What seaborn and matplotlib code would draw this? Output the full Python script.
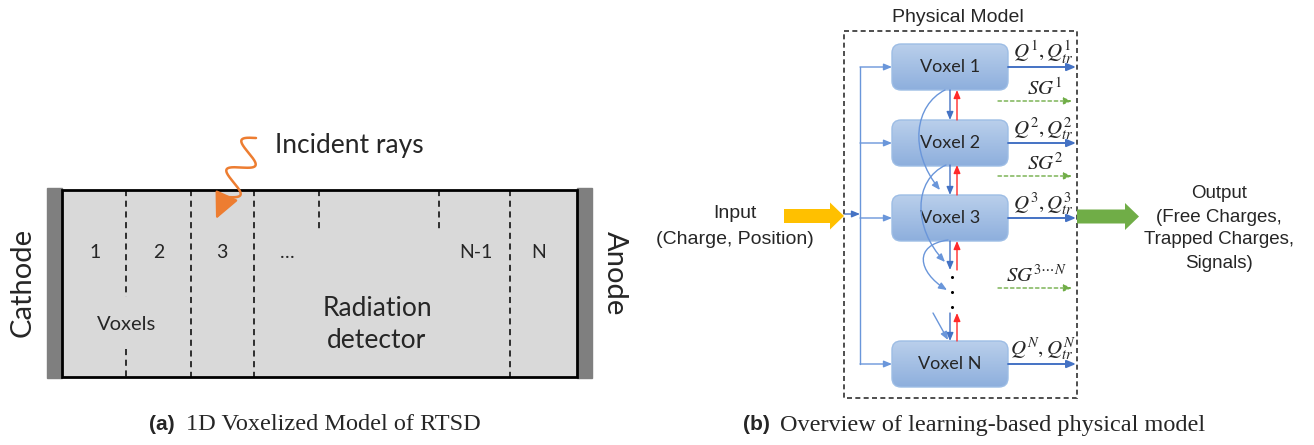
import numpy as np
import matplotlib
matplotlib.use("Agg")
import matplotlib.pyplot as plt
import seaborn as sns
from matplotlib.patches import Rectangle, FancyBboxPatch, FancyArrow, FancyArrowPatch
from matplotlib.path import Path

# ---------------------------------------------------------------- content
VOXEL_NUMS = ["1", "2", "3", "…", "N-1", "N"]
VOXEL_NUM_X = [95, 159, 222, 287, 476, 539]
DIVIDER_X = [126, 191, 254, 319, 439, 510]
DIVIDER_SPANS = [[(190, 297), (349, 377)], [(190, 377)], [(190, 377)],
                 [(190, 232)], [(190, 232)], [(190, 377)]]
VOXEL_NAMES = ["Voxel 1", "Voxel 2", "Voxel 3", "Voxel N"]
VOXEL_TOP = [44, 120, 195, 341]
Q_LABELS = [r"$Q^1,Q_{tr}^1$", r"$Q^2,Q_{tr}^2$", r"$Q^3,Q_{tr}^3$", r"$Q^N,Q_{tr}^N$"]
SG_LABELS = [r"$SG^1$", r"$SG^2$", r"$SG^{3\cdots N}$"]
SG_Y = [101, 176, 288]
INPUT_LINES = ["Input", "(Charge, Position)"]
OUTPUT_LINES = ["Output", "(Free Charges,", "Trapped Charges,", "Signals)"]
CAPTIONS = [("(a)", "1D Voxelized Model of RTSD"),
            ("(b)", "Overview of learning-based physical model")]

BLUE = "#4472C4"
LBLUE = "#6A96DA"
RED = "#FF2A2A"
GREEN = "#70AD47"
ORANGE = "#ED7D31"
YELLOW = "#FFC000"

sns.set_theme(style="white")
plt.rcParams["font.family"] = ["Lato", "DejaVu Sans"]
plt.rcParams["mathtext.fontset"] = "stix"

fig = plt.figure(figsize=(13.14, 4.45), dpi=100)
ax = fig.add_axes([0, 0, 1, 1])
ax.set_xlim(0, 1314)
ax.set_ylim(445, 0)
ax.axis("off")


def arrow(x0, y0, x1, y1, color, lw=1.0, ms=9, ls="-", z=4):
    ax.annotate("", xy=(x1, y1), xytext=(x0, y0),
                arrowprops=dict(arrowstyle="-|>,head_length=0.6,head_width=0.25",
                                color=color, lw=lw, shrinkA=0, shrinkB=0,
                                mutation_scale=ms, linestyle=ls), zorder=z)


# ----------------------------------------------------------- (a) detector
ax.add_patch(Rectangle((47, 188), 15, 190, color="#7F7F7F", zorder=1))
ax.add_patch(Rectangle((577, 188), 15, 190, color="#7F7F7F", zorder=1))
ax.add_patch(Rectangle((62, 189.5), 515, 187, facecolor="#D9D9D9",
                       edgecolor="black", lw=2, zorder=2))
for x, spans in zip(DIVIDER_X, DIVIDER_SPANS):
    for a, b in spans:
        ax.plot([x, x], [a, b], color="black", lw=1.1, ls=(0, (4, 3)), zorder=3)
for lab, x in zip(VOXEL_NUMS, VOXEL_NUM_X):
    ax.text(x, 252, lab, ha="center", va="center", fontsize=14, zorder=4)
ax.text(127, 324, "Voxels", ha="center", va="center", fontsize=14.5, zorder=4)
ax.text(377, 308, "Radiation", ha="center", va="center", fontsize=19, zorder=4)
ax.text(377, 341, "detector", ha="center", va="center", fontsize=19, zorder=4)
ax.text(23, 282, "Cathode", ha="center", va="center", rotation=90, fontsize=21)
ax.text(615, 273, "Anode", ha="center", va="center", rotation=-90, fontsize=21)
ax.text(275, 145, "Incident rays", ha="left", va="center", fontsize=19)

# incident ray squiggle
p0, p1 = np.array([256.0, 138.0]), np.array([226.0, 197.0])
d = (p1 - p0) / np.linalg.norm(p1 - p0)
n = np.array([-d[1], d[0]])
t = np.linspace(0, 1, 300)
wave = p0 + np.outer(t, p1 - p0) + np.outer(12 * np.sin(2 * np.pi * 2.0 * t), n)
ax.plot(wave[:, 0], wave[:, 1], color=ORANGE, lw=1.8, zorder=5,
        solid_capstyle="round", solid_joinstyle="round")
ax.annotate("", xy=(216, 219), xytext=(wave[-1, 0], wave[-1, 1]),
            arrowprops=dict(arrowstyle="-|>,head_length=0.8,head_width=0.38",
                            color=ORANGE, lw=1.8, shrinkA=0, shrinkB=0,
                            mutation_scale=20), zorder=5)

# ------------------------------------------------------ (b) physical model
ax.add_patch(Rectangle((844, 31), 232.5, 367, fill=False, edgecolor="#303030",
                       lw=1.2, ls=(0, (3, 2)), zorder=1))
ax.text(958, 17, "Physical Model", ha="center", va="center", fontsize=14,
        family="Liberation Sans")

grad = np.linspace(0, 1, 64)[:, None, None]
top_c = np.array(matplotlib.colors.to_rgb("#BACFEB"))
bot_c = np.array(matplotlib.colors.to_rgb("#8DAFDD"))
img = top_c * (1 - grad) + bot_c * grad
x0, w, h = 892, 116, 46
centers = []
for name, y0 in zip(VOXEL_NAMES, VOXEL_TOP):
    box = FancyBboxPatch((x0, y0), w, h, boxstyle="round,pad=0,rounding_size=9",
                         facecolor="none", edgecolor="#9DBDE5", lw=1, zorder=3)
    ax.add_patch(box)
    im = ax.imshow(img, extent=[x0, x0 + w, y0 + h, y0], origin="upper",
                   aspect="auto", zorder=2)
    im.set_clip_path(box)
    yc = y0 + h / 2
    centers.append(yc)
    ax.text(x0 + w / 2, yc, name, ha="center", va="center", fontsize=13, zorder=6)

# feed lines
ax.plot([860, 860], [centers[0], centers[-1]], color=LBLUE, lw=1, zorder=3)
for yc in centers:
    arrow(860, yc, x0, yc, LBLUE, lw=1, ms=8)
arrow(845, 214, 860, 214, BLUE, lw=1, ms=8)

# outputs from voxels
for yc, lab in zip(centers, Q_LABELS):
    arrow(x0 + w, yc, 1076, yc, BLUE, lw=1.4, ms=9)
    ax.text(1043, yc - 1, lab, ha="center", va="bottom", fontsize=15, zorder=6)
for y, lab in zip(SG_Y, SG_LABELS):
    arrow(998, y, 1072, y, GREEN, lw=1, ms=8, ls=(0, (2.5, 2)))
    ax.text(1045 if "cdots" not in lab else 1037, y - 2, lab, ha="center",
            va="bottom", fontsize=15, zorder=6)

# arrows between voxels
for top, bot in [(90, 120), (165, 195), (241, 270), (313, 341)]:
    arrow(950, top, 950, bot, BLUE, lw=1, ms=8)
    arrow(957, bot, 957, top, RED, lw=1, ms=8)
for y in [277, 292, 307]:
    ax.plot(952, y, "o", color="black", ms=1.2)

curves = [[(945, 90), (915, 105), (908, 150), (940, 190)],
          [(946, 165), (913, 180), (913, 228), (945, 262)],
          [(948, 240), (913, 245), (918, 272), (947, 290)]]
for pts in curves:
    path = Path(pts, [Path.MOVETO, Path.CURVE4, Path.CURVE4, Path.CURVE4])
    ax.add_patch(FancyArrowPatch(path=path, arrowstyle="-|>,head_length=0.6,head_width=0.25",
                                 color=LBLUE, lw=1, mutation_scale=8, zorder=7))
arrow(933, 313, 948, 340, LBLUE, lw=1, ms=8)

# big input/output arrows
ax.add_patch(FancyArrow(784, 216, 60, 0, width=14, head_width=27, head_length=14,
                        length_includes_head=True, color=YELLOW, lw=0, zorder=3))
ax.add_patch(FancyArrow(1077, 216.5, 62, 0, width=14, head_width=27, head_length=14,
                        length_includes_head=True, color=GREEN, lw=0, zorder=3))
for y, line in zip([214, 240], INPUT_LINES):
    ax.text(735, y, line, ha="center", va="center", fontsize=14, family="Liberation Sans")
for y, line in zip([193, 217, 240, 263], OUTPUT_LINES):
    ax.text(1219, y, line, ha="center", va="center", fontsize=13.5, family="Liberation Sans")

# captions
for (tag, txt), xt, xs in zip(CAPTIONS, [149, 743], [186, 780]):
    ax.text(xt, 425, tag, ha="left", va="center", fontsize=15, fontweight="bold",
            family="Liberation Sans")
    ax.text(xs, 425, txt, ha="left", va="center", fontsize=17.5, family="Liberation Serif")

fig.savefig("out.png", dpi=100)
